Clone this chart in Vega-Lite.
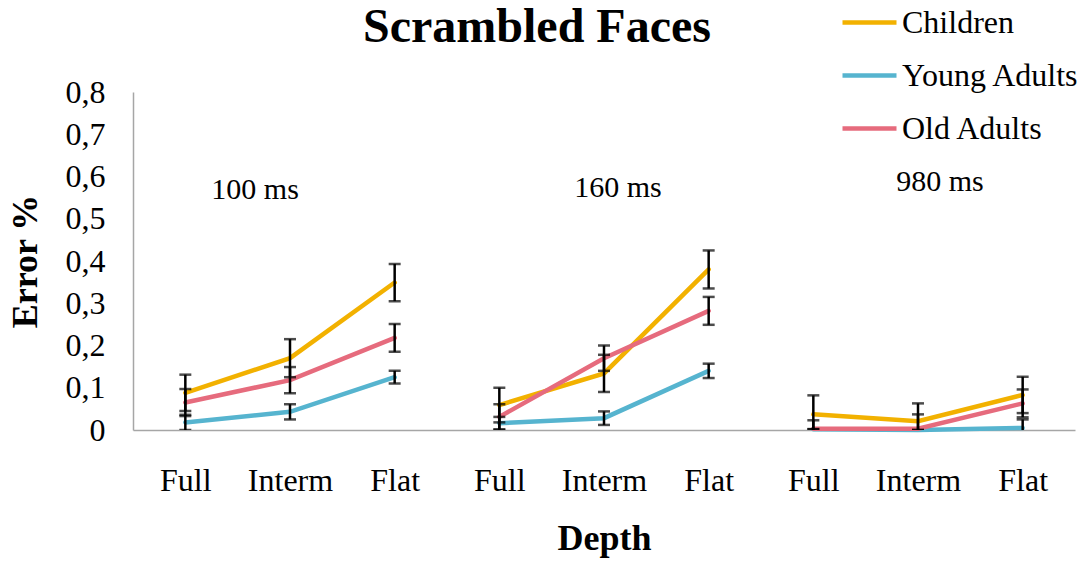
{
  "$schema": "https://vega.github.io/schema/vega-lite/v6.json",
  "width": 942,
  "height": 338,
  "autosize": "none",
  "padding": {"left": 133, "top": 92, "right": 11, "bottom": 131},
  "background": "white",
  "config": {"view": {"stroke": null}, "font": "Liberation Serif"},
  "title": {
    "text": "Scrambled Faces",
    "font": "Liberation Serif",
    "fontSize": 48,
    "fontWeight": "bold",
    "color": "black",
    "anchor": "middle",
    "frame": "group",
    "baseline": "alphabetic",
    "dx": -67,
    "offset": -97
  },
  "datasets": {
    "scores": [
      {"group": "Children", "duration": "100 ms", "depth": "Full", "pos": 1, "error": 0.088, "se": 0.043},
      {"group": "Children", "duration": "100 ms", "depth": "Interm", "pos": 2, "error": 0.170, "se": 0.045},
      {"group": "Children", "duration": "100 ms", "depth": "Flat", "pos": 3, "error": 0.349, "se": 0.044},
      {"group": "Children", "duration": "160 ms", "depth": "Full", "pos": 4, "error": 0.059, "se": 0.041},
      {"group": "Children", "duration": "160 ms", "depth": "Interm", "pos": 5, "error": 0.134, "se": 0.044},
      {"group": "Children", "duration": "160 ms", "depth": "Flat", "pos": 6, "error": 0.380, "se": 0.045},
      {"group": "Children", "duration": "980 ms", "depth": "Full", "pos": 7, "error": 0.037, "se": 0.045},
      {"group": "Children", "duration": "980 ms", "depth": "Interm", "pos": 8, "error": 0.021, "se": 0.042},
      {"group": "Children", "duration": "980 ms", "depth": "Flat", "pos": 9, "error": 0.083, "se": 0.043},
      {"group": "Young Adults", "duration": "100 ms", "depth": "Full", "pos": 1, "error": 0.018, "se": 0.018},
      {"group": "Young Adults", "duration": "100 ms", "depth": "Interm", "pos": 2, "error": 0.043, "se": 0.018},
      {"group": "Young Adults", "duration": "100 ms", "depth": "Flat", "pos": 3, "error": 0.125, "se": 0.015},
      {"group": "Young Adults", "duration": "160 ms", "depth": "Full", "pos": 4, "error": 0.016, "se": 0.015},
      {"group": "Young Adults", "duration": "160 ms", "depth": "Interm", "pos": 5, "error": 0.028, "se": 0.016},
      {"group": "Young Adults", "duration": "160 ms", "depth": "Flat", "pos": 6, "error": 0.140, "se": 0.017},
      {"group": "Young Adults", "duration": "980 ms", "depth": "Full", "pos": 7, "error": 0.002, "se": 0.0},
      {"group": "Young Adults", "duration": "980 ms", "depth": "Interm", "pos": 8, "error": 0.0, "se": 0.0},
      {"group": "Young Adults", "duration": "980 ms", "depth": "Flat", "pos": 9, "error": 0.005, "se": 0.02},
      {"group": "Old Adults", "duration": "100 ms", "depth": "Full", "pos": 1, "error": 0.065, "se": 0.032},
      {"group": "Old Adults", "duration": "100 ms", "depth": "Interm", "pos": 2, "error": 0.118, "se": 0.031},
      {"group": "Old Adults", "duration": "100 ms", "depth": "Flat", "pos": 3, "error": 0.218, "se": 0.033},
      {"group": "Old Adults", "duration": "160 ms", "depth": "Full", "pos": 4, "error": 0.031, "se": 0.03},
      {"group": "Old Adults", "duration": "160 ms", "depth": "Interm", "pos": 5, "error": 0.170, "se": 0.03},
      {"group": "Old Adults", "duration": "160 ms", "depth": "Flat", "pos": 6, "error": 0.282, "se": 0.033},
      {"group": "Old Adults", "duration": "980 ms", "depth": "Full", "pos": 7, "error": 0.003, "se": 0.02},
      {"group": "Old Adults", "duration": "980 ms", "depth": "Interm", "pos": 8, "error": 0.003, "se": 0.034},
      {"group": "Old Adults", "duration": "980 ms", "depth": "Flat", "pos": 9, "error": 0.063, "se": 0.033}
    ],
    "notes": [
      {"label": "100 ms", "pos": 1.666, "error": 0.568},
      {"label": "160 ms", "pos": 5.134, "error": 0.573},
      {"label": "980 ms", "pos": 8.21, "error": 0.587}
    ]
  },
  "layer": [
    {
      "data": {"name": "scores"},
      "mark": {"type": "line", "strokeWidth": 4.5, "strokeCap": "round"},
      "encoding": {
        "x": {
          "field": "pos",
          "type": "quantitative",
          "title": "Depth",
          "scale": {"domain": [0.5, 9.5], "nice": false, "zero": false},
          "axis": {
            "values": [1, 2, 3, 4, 5, 6, 7, 8, 9],
            "labelExpr": "['Full', 'Interm', 'Flat'][(datum.value - 1) % 3]",
            "labelFont": "Liberation Serif",
            "labelFontSize": 32,
            "labelColor": "black",
            "labelBaseline": "alphabetic",
            "labelPadding": 60,
            "labelFlush": false,
            "labelOverlap": false,
            "ticks": false,
            "tickSize": 0,
            "grid": false,
            "domainColor": "#a6a6a6",
            "domainWidth": 1.5,
            "titleFont": "Liberation Serif",
            "titleFontSize": 36,
            "titleFontWeight": "bold",
            "titleColor": "black",
            "titleX": 471,
            "titleY": 119,
            "titleAlign": "center",
            "titleBaseline": "alphabetic"
          }
        },
        "y": {
          "field": "error",
          "type": "quantitative",
          "title": "Error %",
          "scale": {"domain": [0, 0.8], "nice": false},
          "axis": {
            "values": [0, 0.1, 0.2, 0.3, 0.4, 0.5, 0.6, 0.7, 0.8],
            "labelExpr": "datum.value == 0 ? '0' : replace(format(datum.value, '.1f'), '.', ',')",
            "labelFont": "Liberation Serif",
            "labelFontSize": 32,
            "labelColor": "black",
            "labelPadding": 28,
            "labelFlush": false,
            "labelOverlap": false,
            "ticks": false,
            "tickSize": 0,
            "grid": false,
            "domainColor": "#a6a6a6",
            "domainWidth": 1.5,
            "titleFont": "Liberation Serif",
            "titleFontSize": 36,
            "titleFontWeight": "bold",
            "titleColor": "black",
            "titleAngle": -90,
            "titleX": -108,
            "titleY": 169,
            "titleAlign": "center",
            "titleBaseline": "middle"
          }
        },
        "color": {
          "field": "group",
          "type": "nominal",
          "scale": {
            "domain": ["Children", "Young Adults", "Old Adults"],
            "range": ["#f2b100", "#56b4cf", "#e66b7d"]
          },
          "legend": {
            "orient": "none",
            "legendX": 707,
            "legendY": -99,
            "title": null,
            "padding": 0,
            "symbolType": "stroke",
            "symbolSize": 2916,
            "symbolStrokeWidth": 4.5,
            "labelFont": "Liberation Serif",
            "labelFontSize": 32,
            "labelColor": "black",
            "labelOffset": 3,
            "rowPadding": 7,
            "labelLimit": 300
          }
        },
        "detail": {"field": "duration"}
      }
    },
    {
      "data": {"name": "scores"},
      "mark": {
        "type": "errorbar",
        "color": "black",
        "clip": true,
        "thickness": 2.5,
        "ticks": {"size": 12, "thickness": 2.5, "color": "black"}
      },
      "encoding": {
        "x": {"field": "pos", "type": "quantitative", "title": "Depth"},
        "y": {"field": "error", "type": "quantitative", "title": "Error %"},
        "yError": {"field": "se"}
      }
    },
    {
      "data": {"name": "notes"},
      "mark": {"type": "text", "font": "Liberation Serif", "fontSize": 30, "color": "black", "baseline": "middle"},
      "encoding": {
        "x": {"field": "pos", "type": "quantitative", "title": "Depth"},
        "y": {"field": "error", "type": "quantitative", "title": "Error %"},
        "text": {"field": "label"}
      }
    }
  ]
}
